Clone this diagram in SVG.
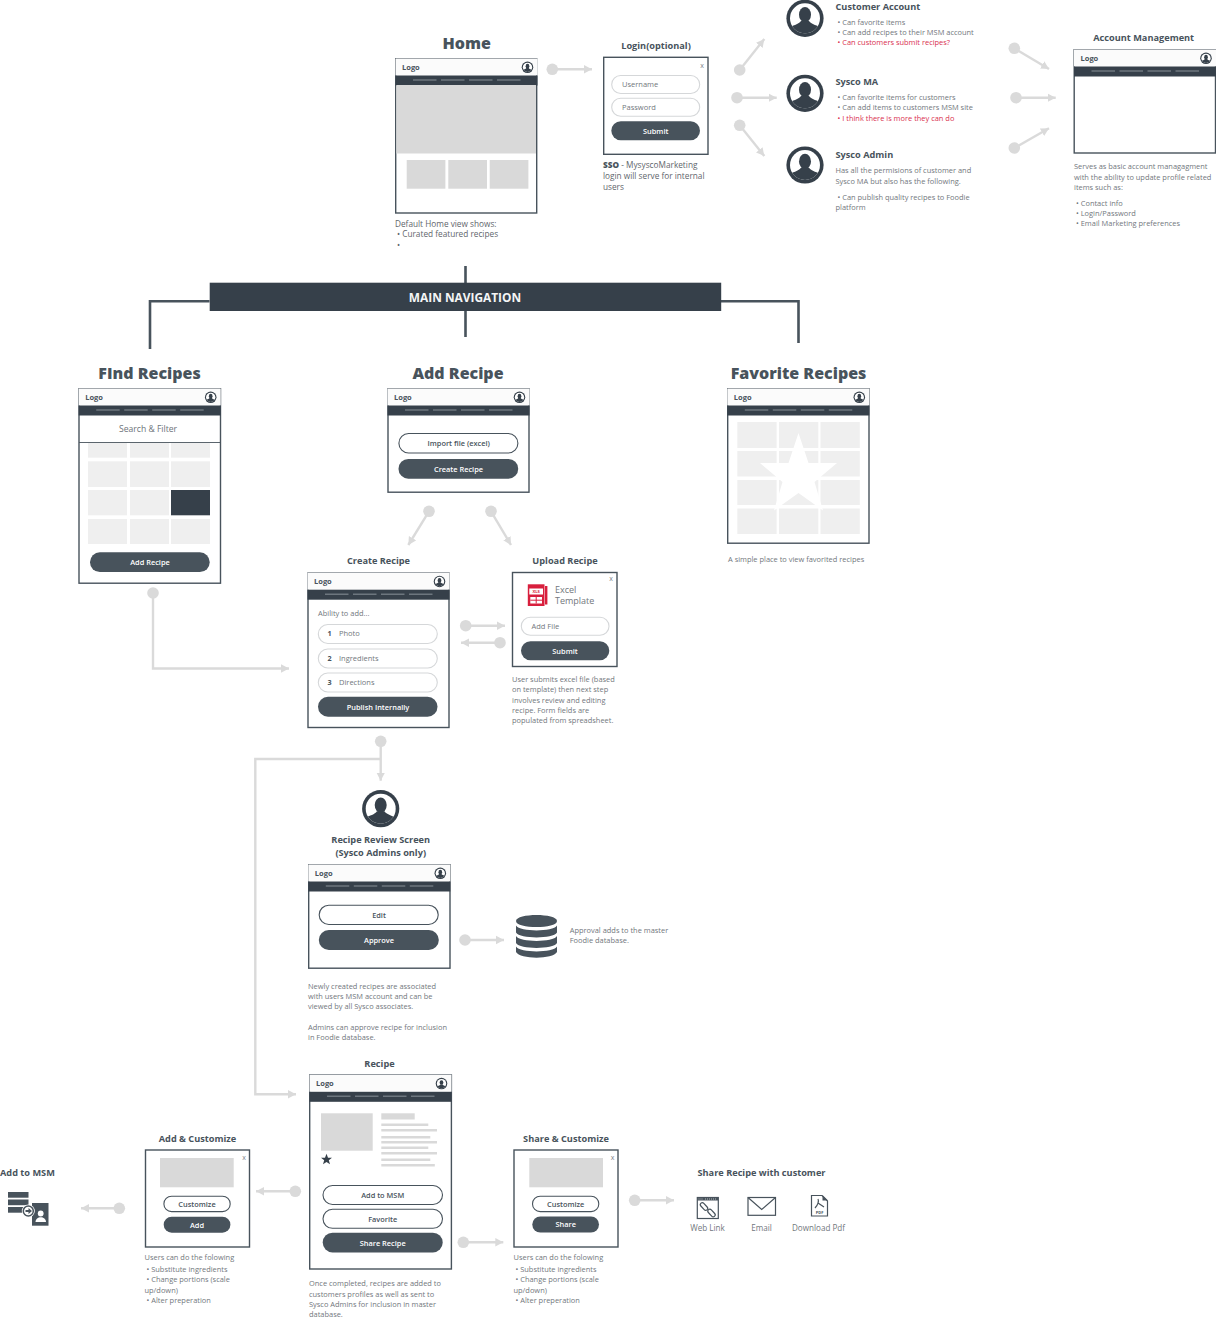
<svg xmlns="http://www.w3.org/2000/svg" width="1216" height="1318" viewBox="0 0 1216 1318">
<style>
text{font-family:"Open Sans","Noto Sans","Liberation Sans",sans-serif}
.b{font-size:7.45px;fill:#72777d}
.s{font-size:8.25px;fill:#5f666c}
.r{font-size:7.45px;fill:#d9304f}
.h1{font-size:16px;font-weight:800;fill:#48535c;text-anchor:middle}
.h2{font-size:9.2px;font-weight:700;fill:#48535c;text-anchor:middle}
.h3{font-size:9.2px;font-weight:700;fill:#48535c}
.logo{font-size:7.5px;font-weight:700;fill:#48535c}
.frame{fill:#fff;stroke:#48535c;stroke-width:1.4}
.hero{fill:#d9d9d9}
.tile{fill:#efefef}
.dk{fill:#48535c}
.wp{fill:#fff;stroke:#48535c;stroke-width:1.1}
.gp{fill:#fff;stroke:#d5d7d9;stroke-width:1.1}
.wt{font-size:7.4px;font-weight:600;fill:#fff;text-anchor:middle}
.dt{font-size:7.4px;font-weight:600;fill:#48535c;text-anchor:middle}
.ph{font-size:7.5px;fill:#72777d}
.lb{font-size:8.1px;fill:#72777d;text-anchor:middle}
.x{font-size:7px;fill:#80858a;text-anchor:middle}
.c{fill:none;stroke:#dadada;stroke-width:2.4}
.d{fill:#dadada}
.nav{fill:none;stroke:#48535c;stroke-width:2.6}
.ic{fill:none;stroke:#48535c;stroke-width:1.2}
</style>
<defs>
<marker id="ah" markerUnits="userSpaceOnUse" markerWidth="9" markerHeight="10" refX="8" refY="5" orient="auto"><path d="M0 0.8L8 5L0 9.2Z" fill="#dadada"/></marker>
<clipPath id="uc"><circle r="15"/></clipPath>
<g id="user"><circle r="18.6" fill="#36404a"/><circle r="15" fill="#fff"/><g clip-path="url(#uc)" fill="#36404a"><ellipse cy="-3.6" rx="6" ry="7.6"/><path d="M-16 16V9.5C-11 6.5-6 6-3.8 2.5H3.8C6 6 11 6.5 16 9.5V16Z"/></g></g>
<g id="hdr"><rect width="142" height="17" fill="#fbfbfb"/><rect y="17" width="142" height="10" fill="#36404a"/><path d="M17.500 21.500H41M45.500 21.500H69M73.500 21.500H97M101.500 21.500H125" stroke="#6d767e" stroke-width="1.600"/><text x="6.500" y="11" class="logo">Logo</text><use href="#user" transform="translate(132 8.800) scale(.31)"/></g>
</defs>
<rect width="1216" height="1318" fill="#fff"/>

<g id="connectors">
<path class="nav" d="M465.500 266V337M209.500 301.300H150V349M721 301.300H798.500V343"/>
<g id="flow">
<path class="c" marker-end="url(#ah)" d="M552.300 69.300H592"/><circle class="d" cx="552.300" cy="69.300" r="5.800"/>
<path class="c" marker-end="url(#ah)" d="M739.700 70L764.300 39"/><circle class="d" cx="739.700" cy="70" r="5.800"/>
<path class="c" marker-end="url(#ah)" d="M737 97.700H776.700"/><circle class="d" cx="737" cy="97.700" r="5.800"/>
<path class="c" marker-end="url(#ah)" d="M739.700 125.300L764.300 156"/><circle class="d" cx="739.700" cy="125.300" r="5.800"/>
<path class="c" marker-end="url(#ah)" d="M1014.300 48.300L1049 69"/><circle class="d" cx="1014.300" cy="48.300" r="5.800"/>
<path class="c" marker-end="url(#ah)" d="M1016 97.700H1055.700"/><circle class="d" cx="1016" cy="97.700" r="5.800"/>
<path class="c" marker-end="url(#ah)" d="M1014.300 148L1049 128.300"/><circle class="d" cx="1014.300" cy="148" r="5.800"/>
<path class="c" marker-end="url(#ah)" d="M153 593V668.500H289"/><circle class="d" cx="153" cy="593" r="5.800"/>
<path class="c" marker-end="url(#ah)" d="M429 511.300L408.300 545"/><circle class="d" cx="429" cy="511.300" r="5.800"/>
<path class="c" marker-end="url(#ah)" d="M491 511.300L511 545"/><circle class="d" cx="491" cy="511.300" r="5.800"/>
<path class="c" marker-end="url(#ah)" d="M465.700 625.700H505"/><circle class="d" cx="465.700" cy="625.700" r="5.800"/>
<path class="c" marker-end="url(#ah)" d="M500 642.700H461"/><circle class="d" cx="500" cy="642.700" r="5.800"/>
<path class="c" marker-end="url(#ah)" d="M380.700 741.300V780.700"/><circle class="d" cx="380.700" cy="741.300" r="5.800"/>
<path class="c" marker-end="url(#ah)" d="M380.700 759H255.300V1094.300H296"/>
<path class="c" marker-end="url(#ah)" d="M465 940H504"/><circle class="d" cx="465" cy="940" r="5.800"/>
<path class="c" marker-end="url(#ah)" d="M295.300 1191.300H256"/><circle class="d" cx="295.300" cy="1191.300" r="5.800"/>
<path class="c" marker-end="url(#ah)" d="M119.300 1208.300H81"/><circle class="d" cx="119.300" cy="1208.300" r="5.800"/>
<path class="c" marker-end="url(#ah)" d="M463.300 1242.300H503.300"/><circle class="d" cx="463.300" cy="1242.300" r="5.800"/>
<path class="c" marker-end="url(#ah)" d="M634.700 1200.300H674"/><circle class="d" cx="634.700" cy="1200.300" r="5.800"/>
</g>
</g>

<g id="main-navigation"><rect x="209.700" y="282.700" width="511.500" height="28.300" fill="#36404a"/><text x="465" y="301.500" font-size="11.900" font-weight="700" fill="#f4f5f6" text-anchor="middle">MAIN NAVIGATION</text></g>

<g id="home">
<text x="466.700" y="48.500" class="h1">Home</text>
<rect class="frame" x="395.700" y="58.700" width="141" height="154.300"/>
<use href="#hdr" x="395.500" y="58.500"/>
<rect class="hero" x="396.400" y="85" width="139.600" height="68.500"/>
<rect class="hero" x="406.700" y="160" width="38.700" height="28.700"/><rect class="hero" x="448.300" y="160" width="38.700" height="28.700"/><rect class="hero" x="489.700" y="160" width="38.700" height="28.700"/>
<text x="395" y="226.500" class="s">Default Home view shows:</text>
<text x="397" y="237" class="s">• Curated featured recipes</text>
<text x="397" y="247.500" class="s">•</text>
</g>

<g id="login">
<text x="656" y="48.500" class="h2">Login(optional)</text>
<rect class="frame" x="603.700" y="57.300" width="104.300" height="97"/>
<text x="702" y="67.500" class="x">x</text>
<rect class="gp" x="611.700" y="75.500" width="88" height="18" rx="9"/><text x="622" y="87" class="ph">Username</text>
<rect class="gp" x="611.700" y="98.300" width="88" height="18" rx="9"/><text x="622" y="110" class="ph">Password</text>
<rect class="dk" x="611.300" y="121.300" width="88.700" height="19" rx="9.500"/><text x="655.700" y="134" class="wt">Submit</text>
<text x="603" y="168" class="s"><tspan font-weight="800" fill="#48535c">SSO</tspan> - MysyscoMarketing</text>
<text x="603" y="179" class="s">login will serve for internal</text>
<text x="603" y="190" class="s">users</text>
</g>

<g id="customer-account">
<use href="#user" x="805" y="18.300"/>
<text x="835.500" y="9.500" class="h3">Customer Account</text>
<text x="837.500" y="24.500" class="b">• Can favorite items</text>
<text x="837.500" y="34.800" class="b">• Can add recipes to their MSM account</text>
<text x="837.500" y="45" class="r">• Can customers submit recipes?</text>
</g>
<g id="sysco-ma">
<use href="#user" x="805" y="93.300"/>
<text x="835.500" y="84.700" class="h3">Sysco MA</text>
<text x="837.500" y="100" class="b">• Can favorite items for customers</text>
<text x="837.500" y="110.300" class="b">• Can add items to customers MSM site</text>
<text x="837.500" y="120.500" class="r">• I think there is more they can do</text>
</g>
<g id="sysco-admin">
<use href="#user" x="805" y="165"/>
<text x="835.500" y="157.700" class="h3">Sysco Admin</text>
<text x="835.500" y="173.300" class="b">Has all the permisions of customer and</text>
<text x="835.500" y="183.600" class="b">Sysco MA but also has the following.</text>
<text x="837.500" y="200" class="b">• Can publish quality recipes to Foodie</text>
<text x="835.500" y="210.300" class="b">platform</text>
</g>

<g id="account-management">
<text x="1143.700" y="41" class="h2">Account Management</text>
<rect class="frame" x="1074.200" y="49.700" width="141.300" height="103.300"/>
<use href="#hdr" x="1074" y="49.500"/>
<text x="1074" y="169.400" class="b">Serves as basic account managagment</text>
<text x="1074" y="179.700" class="b">with the ability to update profile related</text>
<text x="1074" y="190" class="b">items such as:</text>
<text x="1076" y="205.700" class="b">• Contact info</text>
<text x="1076" y="216" class="b">• Login/Password</text>
<text x="1076" y="226.300" class="b">• Email Marketing preferences</text>
</g>

<g id="find-recipes">
<text x="149.500" y="379" class="h1">FInd Recipes</text>
<rect class="frame" x="79" y="388.700" width="141.500" height="194.500"/>
<use href="#hdr" x="78.700" y="388.500"/>
<text x="148" y="431.700" font-size="8.600" fill="#6d7379" text-anchor="middle">Search &amp; Filter</text>
<path d="M79 442.500H220.500" stroke="#48535c" stroke-width=".9"/>
<g class="tile">
<rect x="88" y="443" width="39" height="14.700"/><rect x="130" y="443" width="39" height="14.700"/><rect x="171" y="443" width="39" height="14.700"/>
<rect x="88" y="461.300" width="39" height="25.700"/><rect x="130" y="461.300" width="39" height="25.700"/><rect x="171" y="461.300" width="39" height="25.700"/>
<rect x="88" y="490" width="39" height="25.300"/><rect x="130" y="490" width="39" height="25.300"/>
<rect x="88" y="519" width="39" height="25"/><rect x="130" y="519" width="39" height="25"/><rect x="171" y="519" width="39" height="25"/>
</g>
<rect x="171" y="490" width="39" height="25.300" fill="#36404a"/>
<rect class="dk" x="90" y="552.300" width="119.700" height="19.700" rx="9.800"/><text x="150" y="565.200" class="wt">Add Recipe</text>
</g>

<g id="add-recipe">
<text x="458" y="379" class="h1">Add Recipe</text>
<rect class="frame" x="388" y="388.700" width="141" height="103.500"/>
<use href="#hdr" x="387.500" y="388.500"/>
<rect class="wp" x="398.900" y="433.500" width="119" height="19.500" rx="9.700"/><text x="458.700" y="446.300" class="dt">Import file (excel)</text>
<rect class="dk" x="398.500" y="459" width="119.700" height="19.700" rx="9.800"/><text x="458.500" y="471.700" class="wt">Create Recipe</text>
</g>

<g id="favorite-recipes">
<text x="798.500" y="379" class="h1">Favorite Recipes</text>
<rect class="frame" x="727.700" y="388.700" width="141.300" height="154.500"/>
<use href="#hdr" x="727.300" y="388.500"/>
<g class="tile">
<rect x="737.300" y="422" width="39.300" height="26"/><rect x="779" y="422" width="39.300" height="26"/><rect x="820.500" y="422" width="39.300" height="26"/>
<rect x="737.300" y="451" width="39.300" height="25.500"/><rect x="779" y="451" width="39.300" height="25.500"/><rect x="820.500" y="451" width="39.300" height="25.500"/>
<rect x="737.300" y="480" width="39.300" height="25"/><rect x="779" y="480" width="39.300" height="25"/><rect x="820.500" y="480" width="39.300" height="25"/>
<rect x="737.300" y="508.500" width="39.300" height="25.500"/><rect x="779" y="508.500" width="39.300" height="25.500"/><rect x="820.500" y="508.500" width="39.300" height="25.500"/>
</g>
<path d="M798.500 433L808.500 463H837L814.500 482L823 510.500L798.500 493L774 510.500L782.500 482L760 463H788.500Z" fill="#fff"/>
<text x="728" y="562" class="b">A simple place to view favorited recipes</text>
</g>

<g id="create-recipe">
<text x="378.500" y="564" class="h2">Create Recipe</text>
<rect class="frame" x="308" y="573" width="141" height="154.500"/>
<use href="#hdr" x="307.500" y="572.700"/>
<text x="318" y="615.700" class="b">Ability to add...</text>
<rect class="gp" x="318.300" y="624.500" width="119" height="19" rx="9.500"/><text x="327.500" y="636" font-size="7.200" font-weight="700" fill="#48535c">1</text><text x="339" y="636" class="ph">Photo</text>
<rect class="gp" x="318.300" y="649" width="119" height="19" rx="9.500"/><text x="327.500" y="661" font-size="7.200" font-weight="700" fill="#48535c">2</text><text x="339" y="661" class="ph">Ingredients</text>
<rect class="gp" x="318.300" y="673" width="119" height="19" rx="9.500"/><text x="327.500" y="685" font-size="7.200" font-weight="700" fill="#48535c">3</text><text x="339" y="685" class="ph">Directions</text>
<rect class="dk" x="318" y="696.700" width="119.500" height="20" rx="10"/><text x="378" y="709.700" class="wt">Publish Internally</text>
</g>

<g id="upload-recipe">
<text x="565" y="564" class="h2">Upload Recipe</text>
<rect class="frame" x="512.500" y="572.500" width="104.500" height="94"/>
<text x="611" y="580.500" class="x">x</text>
<g id="excel-icon"><rect x="527.800" y="584.300" width="16.700" height="21.700" fill="#d81f3d"/><rect x="545" y="586" width="2.400" height="18.500" fill="#d81f3d"/><rect x="529.300" y="588.500" width="13.700" height="6" fill="#fff"/><text x="536.200" y="593.200" font-size="4.200" font-weight="700" fill="#d81f3d" text-anchor="middle">XLS</text><rect x="530.300" y="597" width="11.700" height="6.500" fill="#fff"/><path d="M536.200 597V603.500M530.300 600.200H542" stroke="#d81f3d" stroke-width="1"/></g>
<text x="555" y="593" font-size="9" fill="#72777d">Excel</text>
<text x="555" y="603.500" font-size="9" fill="#72777d">Template</text>
<rect class="gp" x="521.300" y="617.300" width="87.700" height="18" rx="9"/><text x="531.500" y="629" class="ph">Add File</text>
<rect class="dk" x="521" y="641.300" width="88.300" height="19" rx="9.500"/><text x="565" y="654" class="wt">Submit</text>
<text x="512" y="682" class="b">User submits excel file (based</text>
<text x="512" y="692.300" class="b">on template) then next step</text>
<text x="512" y="702.600" class="b">involves review and editing</text>
<text x="512" y="713" class="b">recipe. Form fields are</text>
<text x="512" y="723.300" class="b">populated from spreadsheet.</text>
</g>

<g id="recipe-review">
<use href="#user" x="380.700" y="808.700"/>
<text x="380.700" y="843" class="h2">Recipe Review Screen</text>
<text x="380.700" y="855.500" class="h2">(Sysco Admins only)</text>
<rect class="frame" x="308.700" y="864.700" width="141.300" height="103.500"/>
<use href="#hdr" x="308.300" y="864.500"/>
<rect class="wp" x="319.200" y="905.200" width="119" height="19.300" rx="9.600"/><text x="379" y="917.700" class="dt">Edit</text>
<rect class="dk" x="318.800" y="930" width="120" height="20" rx="10"/><text x="379" y="943" class="wt">Approve</text>
<text x="308" y="988.700" class="b">Newly created recipes are associated</text>
<text x="308" y="999" class="b">with users MSM account and can be</text>
<text x="308" y="1009.300" class="b">viewed by all Sysco associates.</text>
<text x="308" y="1030" class="b">Admins can approve recipe for inclusion</text>
<text x="308" y="1040.300" class="b">in Foodie database.</text>
</g>

<g id="foodie-database">
<path class="dk" d="M516 921C516 913 557 913 557 921C557 929 516 929 516 921Z"/>
<path class="dk" d="M516 925.500C520 932 553 932 557 925.500V932.500C553 939 520 939 516 932.500Z"/>
<path class="dk" d="M516 936C520 942.500 553 942.500 557 936V943C553 949.500 520 949.500 516 943Z"/>
<path class="dk" d="M516 946.500C520 953 553 953 557 946.500V952C553 959.500 520 959.500 516 952Z"/>
<text x="569.700" y="933" class="b">Approval adds to the master</text>
<text x="569.700" y="943.300" class="b">Foodie database.</text>
</g>

<g id="recipe">
<text x="379.500" y="1067" class="h2">Recipe</text>
<rect class="frame" x="309.700" y="1075" width="141.700" height="194"/>
<use href="#hdr" x="309.500" y="1074.800"/>
<rect class="hero" x="321" y="1113.300" width="51.700" height="37.400"/>
<path d="M326.500 1153.800L328 1157.800H332L328.800 1160.300L330 1164.300L326.500 1161.900L323 1164.300L324.200 1160.300L321 1157.800H325Z" fill="#36404a"/>
<rect class="hero" x="381.300" y="1113.300" width="33.400" height="6.200"/>
<g class="hero">
<rect x="381.300" y="1123.500" width="47" height="2.500"/><rect x="381.300" y="1129" width="55.700" height="2.500"/><rect x="381.300" y="1136" width="49" height="2.500"/><rect x="381.300" y="1141" width="55.700" height="2.500"/><rect x="381.300" y="1146.500" width="47" height="2.500"/><rect x="381.300" y="1152" width="55.700" height="2.500"/><rect x="381.300" y="1158.500" width="49" height="2.500"/><rect x="381.300" y="1164" width="53.500" height="2.500"/>
</g>
<rect class="wp" x="323" y="1185.500" width="119.500" height="19" rx="9.500"/><text x="382.700" y="1198" class="dt">Add to MSM</text>
<rect class="wp" x="323" y="1209.300" width="119.500" height="19" rx="9.500"/><text x="382.700" y="1221.800" class="dt">Favorite</text>
<rect class="dk" x="322.700" y="1232.700" width="120" height="19.700" rx="9.800"/><text x="382.700" y="1245.700" class="wt">Share Recipe</text>
<text x="309" y="1286.300" class="b">Once completed, recipes are added to</text>
<text x="309" y="1296.600" class="b">customers profiles as well as sent to</text>
<text x="309" y="1306.900" class="b">Sysco Admins for inclusion in master</text>
<text x="309" y="1317.200" class="b">database.</text>
</g>

<g id="add-customize">
<text x="197.500" y="1142" class="h2">Add &amp; Customize</text>
<rect class="frame" x="145.500" y="1150" width="104" height="97"/>
<text x="244" y="1159.500" class="x">x</text>
<rect class="hero" x="160" y="1158" width="73.700" height="29.300"/>
<rect class="wp" x="163.900" y="1196.200" width="66.300" height="15.400" rx="7.700"/><text x="197" y="1206.700" class="dt">Customize</text>
<rect class="dk" x="163.700" y="1216.700" width="66.700" height="16" rx="8"/><text x="197" y="1227.500" class="wt">Add</text>
<text x="144.500" y="1259.500" class="b">Users can do the folowing</text>
<text x="146.500" y="1272" class="b">• Substitute ingredients</text>
<text x="146.500" y="1282.300" class="b">• Change portions (scale</text>
<text x="144.500" y="1292.500" class="b">up/down)</text>
<text x="146.500" y="1302.800" class="b">• Alter preperation</text>
</g>

<g id="add-to-msm">
<text x="0" y="1176" class="h3">Add to MSM</text>
<rect class="dk" x="8" y="1192" width="20.500" height="5.700"/><rect class="dk" x="8" y="1199.500" width="20.500" height="5.700"/><rect class="dk" x="8" y="1207" width="20.500" height="5.700"/>
<rect class="dk" x="32" y="1203" width="16.500" height="22.700"/>
<circle cx="28.300" cy="1211" r="6.500" fill="#fff"/>
<circle cx="28.300" cy="1211" r="5" fill="#fff" stroke="#48535c" stroke-width="1.500"/>
<path d="M25.500 1210H28.500V1208L32 1211L28.500 1214V1212H25.500Z" class="dk"/>
<circle cx="40.700" cy="1213.500" r="2.900" fill="#fff"/><path d="M35.500 1222C35.500 1215.500 46 1215.500 46 1222Z" fill="#fff"/>
</g>

<g id="share-customize">
<text x="566" y="1142" class="h2">Share &amp; Customize</text>
<rect class="frame" x="514" y="1150" width="104" height="97" stroke="#6d767e"/>
<text x="612.700" y="1159.500" class="x">x</text>
<rect class="hero" x="529.300" y="1158" width="73.700" height="29.300"/>
<rect class="wp" x="532.500" y="1196.200" width="66.300" height="15.400" rx="7.700"/><text x="565.700" y="1206.700" class="dt">Customize</text>
<rect class="dk" x="532.300" y="1216.500" width="66.700" height="16" rx="8"/><text x="565.700" y="1227.300" class="wt">Share</text>
<text x="513.500" y="1259.500" class="b">Users can do the folowing</text>
<text x="515.500" y="1272" class="b">• Substitute ingredients</text>
<text x="515.500" y="1282.300" class="b">• Change portions (scale</text>
<text x="513.500" y="1292.500" class="b">up/down)</text>
<text x="515.500" y="1302.800" class="b">• Alter preperation</text>
</g>

<g id="share-recipe">
<text x="761.500" y="1176" class="h2">Share Recipe with customer</text>
<g id="web-link">
<rect class="ic" x="697.300" y="1197.500" width="21" height="21"/><rect class="dk" x="697.300" y="1197.500" width="21" height="3"/>
<path d="M698.500 1199H703M705 1199H717" stroke="#fff" stroke-width=".6" stroke-dasharray="1 1"/>
<g class="ic" stroke-width="1.100"><rect x="699.500" y="1204.500" width="9" height="4" rx="2" transform="rotate(48 704 1206.500)"/><rect x="707" y="1211" width="9" height="4" rx="2" transform="rotate(48 711.500 1213)"/></g>
<text x="707.500" y="1230.500" class="lb">Web Link</text>
</g>
<g id="email">
<rect class="ic" x="748" y="1197.500" width="27.500" height="17.800"/><path class="ic" d="M748 1197.500L761.700 1209.500L775.500 1197.500"/>
<text x="761.500" y="1230.500" class="lb">Email</text>
</g>
<g id="download-pdf">
<path class="ic" d="M811.500 1195.500H822L827.500 1201V1216H811.500Z"/><path class="dk" d="M822.500 1195L828 1200.500H822.500Z"/>
<path class="ic" d="M815 1208C818 1205 819 1201 818 1199M818 1203L824 1207" stroke-width=".9"/>
<text x="819.500" y="1213.800" font-size="4" font-weight="700" fill="#48535c" text-anchor="middle">PDF</text>
<text x="818.500" y="1230.500" class="lb">Download Pdf</text>
</g>
</g>
</svg>
